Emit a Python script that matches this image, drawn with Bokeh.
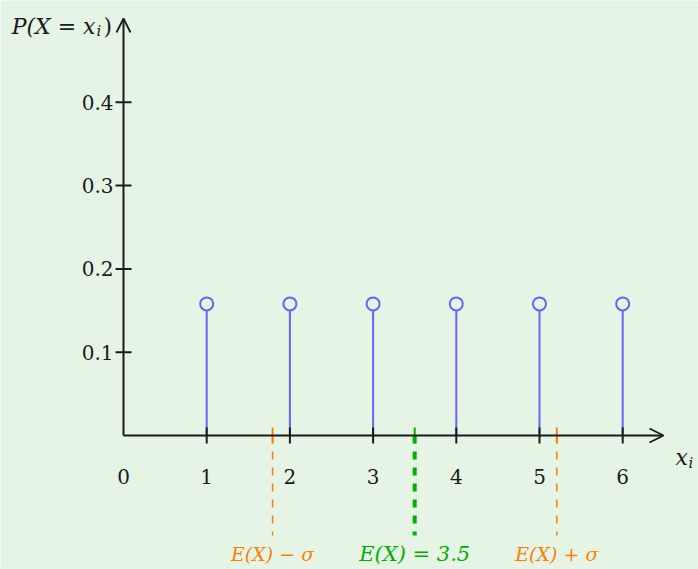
from bokeh.plotting import figure
from bokeh.models import Arrow, OpenHead
from bokeh.core.properties import value
from bokeh.embed import file_html
from bokeh.resources import INLINE

# ---- data ----
x_vals = [1, 2, 3, 4, 5, 6]
probs = [0.158, 0.158, 0.158, 0.158, 0.158, 0.158]
x_ticks = [0, 1, 2, 3, 4, 5, 6]
x_tick_labels = ["0", "1", "2", "3", "4", "5", "6"]
y_ticks = [0.1, 0.2, 0.3, 0.4]
y_tick_labels = ["0.1", "0.2", "0.3", "0.4"]
mean = 3.5
sigma = 1.708
ref_x = [mean - sigma, mean + sigma]
ref_labels = ["E(X) \u2212 \u03c3", "E(X) + \u03c3"]
mean_label = "E(X) = 3.5"

# ---- layout helpers ----
W, H = 698, 569
X0, Y0 = 123, 435          # pixel position of origin
SX, SY = 83.2, 833.0       # pixels per data unit
def dx(px):
    return (px - X0) / SX
def dy(py):
    return (Y0 - py) / SY

BG = "#e6f4e6"
BLUE = "#6464ff"
ORANGE = "#ff8000"
GREEN = "#00b000"
INK = "#1a1a1a"
FONT = "DejaVu Serif"

p = figure(width=W, height=H, x_range=(dx(0), dx(W)), y_range=(dy(H), dy(0)),
           output_backend="svg", toolbar_location=None,
           x_axis_location=None, y_axis_location=None, min_border=0)
p.grid.visible = False
p.outline_line_color = None
p.background_fill_color = BG
p.border_fill_color = BG

tick_h = 8 / SY
tick_w = 8 / SX
bottom = dy(535)

# stems
p.segment(x0=x_vals, y0=[0] * len(x_vals), x1=x_vals, y1=probs,
          line_color=BLUE, line_width=2)

# sigma reference lines
p.segment(x0=ref_x, y0=[0] * 2, x1=ref_x, y1=[bottom] * 2,
          line_color=ORANGE, line_width=1.5, line_dash="8 8")
p.segment(x0=ref_x, y0=[tick_h] * 2, x1=ref_x, y1=[-tick_h] * 2,
          line_color=ORANGE, line_width=2)
# mean line
p.segment(x0=[mean], y0=[0], x1=[mean], y1=[bottom],
          line_color=GREEN, line_width=4, line_dash="8 8")
p.segment(x0=[mean], y0=[tick_h], x1=[mean], y1=[-tick_h],
          line_color=GREEN, line_width=2)

# axes with arrows
p.add_layout(Arrow(end=OpenHead(size=14, line_width=1.8, line_color=INK),
                   x_start=0, y_start=0, x_end=dx(663), y_end=0,
                   line_width=2, line_color=INK))
p.add_layout(Arrow(end=OpenHead(size=14, line_width=1.8, line_color=INK),
                   x_start=0, y_start=0, x_end=0, y_end=dy(18),
                   line_width=2, line_color=INK))

# ticks
xt = x_ticks[1:]
p.segment(x0=xt, y0=[tick_h] * len(xt), x1=xt, y1=[-tick_h] * len(xt),
          line_color=INK, line_width=2)
p.segment(x0=[-tick_w] * len(y_ticks), y0=y_ticks, x1=[tick_w] * len(y_ticks), y1=y_ticks,
          line_color=INK, line_width=2)

# markers
p.scatter(x=x_vals, y=probs, size=13, marker="circle", line_color=BLUE,
          line_width=2, fill_color=BG)

# tick labels
p.text(x=x_ticks, y=[dy(476)] * len(x_ticks), text=x_tick_labels,
       text_font=value(FONT), text_font_size="20px", text_color=INK,
       text_align="center", text_baseline="middle")
p.text(x=[dx(113)] * len(y_ticks), y=y_ticks, text=y_tick_labels,
       text_font=value(FONT), text_font_size="20px", text_color=INK,
       text_align="right", text_baseline="middle")

# reference labels
p.text(x=ref_x, y=[dy(553)] * 2, text=ref_labels,
       text_font=value(FONT), text_font_style="italic", text_font_size="19px",
       text_color=ORANGE, text_align="center", text_baseline="middle")
p.text(x=[mean], y=[dy(553)], text=[mean_label],
       text_font=value(FONT), text_font_style="italic", text_font_size="21px",
       text_color=GREEN, text_align="center", text_baseline="middle")

# axis titles
p.text(x=[dx(95)], y=[dy(26)], text=["P(X = x"], text_font=value(FONT),
       text_font_style="italic", text_font_size="22px", text_color=INK,
       text_align="right", text_baseline="alphabetic")
p.text(x=[dx(96)], y=[dy(30)], text=["i"], text_font=value(FONT),
       text_font_style="italic", text_font_size="15px", text_color=INK,
       text_align="left", text_baseline="alphabetic")
p.text(x=[dx(103)], y=[dy(26)], text=[")"], text_font=value(FONT),
       text_font_size="22px", text_color=INK,
       text_align="left", text_baseline="alphabetic")
p.text(x=[dx(675)], y=[dy(457)], text=["x"], text_font=value(FONT),
       text_font_style="italic", text_font_size="22px", text_color=INK,
       text_align="left", text_baseline="alphabetic")
p.text(x=[dx(688)], y=[dy(462)], text=["i"], text_font=value(FONT),
       text_font_style="italic", text_font_size="15px", text_color=INK,
       text_align="left", text_baseline="alphabetic")

open("out.html", "w").write(file_html(p, INLINE))
